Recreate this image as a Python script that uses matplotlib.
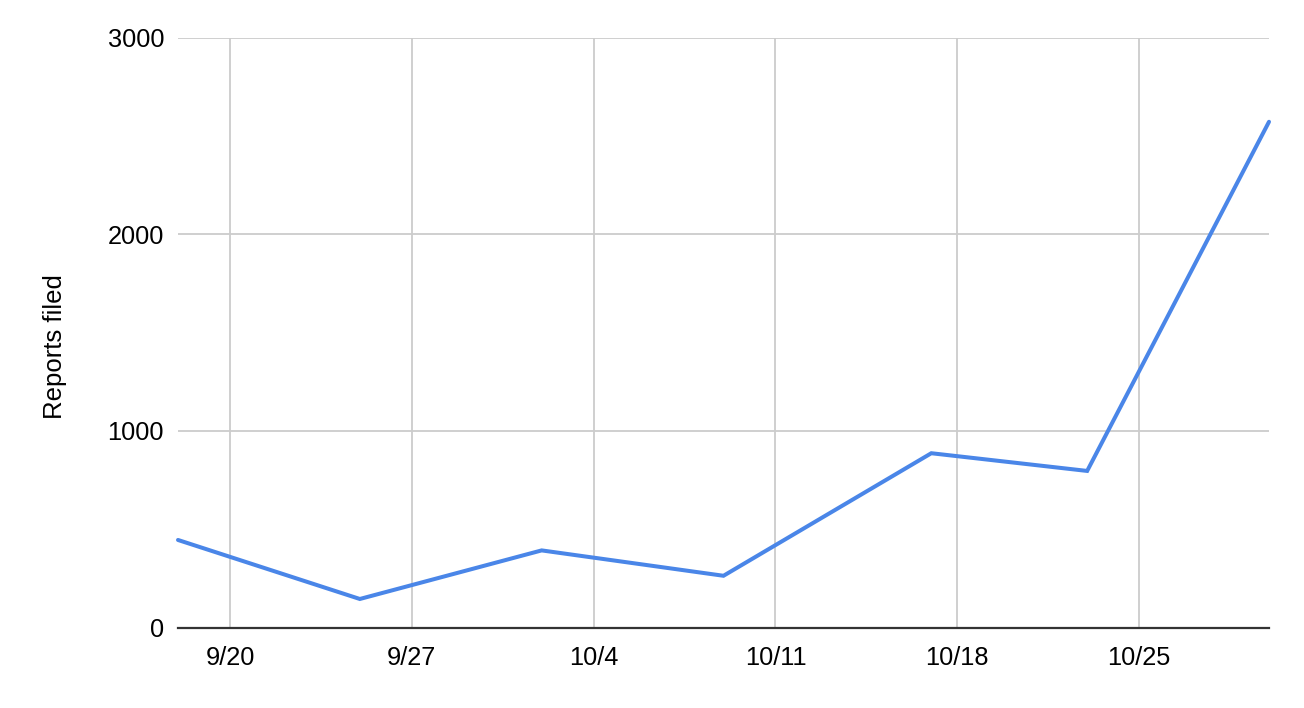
import matplotlib
matplotlib.use("Agg")
import matplotlib.pyplot as plt
import matplotlib.dates as mdates
import datetime as dt

# Data
dates = ["2020-09-18", "2020-09-25", "2020-10-02", "2020-10-09",
         "2020-10-17", "2020-10-23", "2020-10-30"]
reports = [446, 146, 393, 264, 887, 797, 2572]
tick_dates = ["2020-09-20", "2020-09-27", "2020-10-04", "2020-10-11",
              "2020-10-18", "2020-10-25"]
tick_labels = ["9/20", "9/27", "10/4", "10/11", "10/18", "10/25"]
y_ticks = [0, 1000, 2000, 3000]

x = [dt.datetime.strptime(d, "%Y-%m-%d") for d in dates]
xt = [dt.datetime.strptime(d, "%Y-%m-%d") for d in tick_dates]

plt.rcParams['font.family'] = ['Liberation Sans', 'DejaVu Sans']

fig = plt.figure(figsize=(13.04, 7.08), dpi=100)
ax = fig.add_axes([178/1304, 1 - 627.7/708, (1269 - 178)/1304, (627.7 - 37.6)/708])

ax.plot(x, reports, color="#4a86e8", linewidth=2.9, solid_capstyle="round",
        solid_joinstyle="miter", clip_on=False, zorder=3)

ax.set_xlim(x[0], x[-1])
ax.set_ylim(0, 3000)
ax.set_xticks(xt)
ax.set_xticklabels(tick_labels)
ax.set_yticks(y_ticks)
ax.set_yticklabels([str(v) for v in y_ticks])

ax.grid(True, color="#cccccc", linewidth=1.3)
ax.set_axisbelow(True)
for s in ["top", "right", "left"]:
    ax.spines[s].set_visible(False)
ax.spines["bottom"].set_color("#333333")
ax.spines["bottom"].set_linewidth(1.6)
ax.spines["bottom"].set_zorder(2)

ax.tick_params(axis="both", length=0, labelsize=18.3, colors="#000000")
ax.tick_params(axis="y", pad=10)
ax.tick_params(axis="x", pad=13)

fig.text(55/1304, 1 - 347/708, "Reports filed", rotation=90, ha="center",
         va="center", fontsize=18.5, color="#000000")

fig.savefig("out.png", dpi=100, facecolor="white")
